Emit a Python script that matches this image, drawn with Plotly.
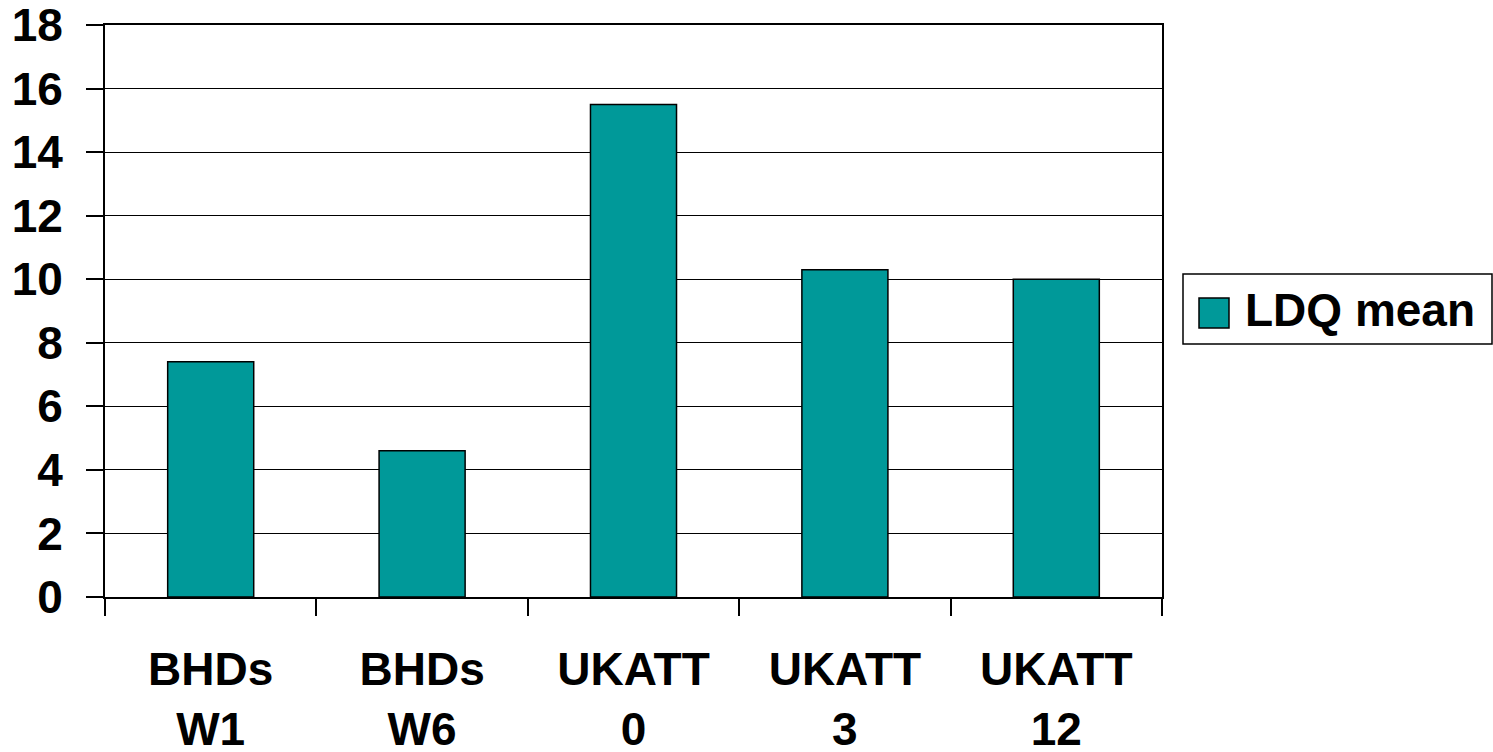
import plotly.graph_objects as go

categories = ["BHDs<br>W1", "BHDs<br>W6", "UKATT<br>0", "UKATT<br>3", "UKATT<br>12"]
ldq_mean = [7.4, 4.6, 15.5, 10.3, 10.0]
series_name = "LDQ mean"
y_ticks = [0, 2, 4, 6, 8, 10, 12, 14, 16, 18]

W, H = 1493, 752
L, R, T, B = 105, 331, 25, 155
pw, ph = W - L - R, H - T - B

def px_x(x):
    return (x - L) / pw

def px_y(y):
    return (H - B - y) / ph

FONT = "Arial, 'Liberation Sans', sans-serif"
TEAL = "#009999"

fig = go.Figure()
fig.add_trace(go.Bar(
    x=categories, y=ldq_mean, name=series_name,
    marker=dict(color=TEAL, line=dict(color="black", width=1.5)),
    showlegend=False,
))

fig.update_layout(
    width=W, height=H,
    margin=dict(l=L, r=R, t=T, b=B, autoexpand=False),
    paper_bgcolor="white", plot_bgcolor="white",
    bargap=0.593,
    font=dict(family=FONT, size=46, color="black", weight="bold"),
)
fig.update_xaxes(
    type="category", automargin=False,
    showline=True, linecolor="black", linewidth=2,
    mirror=True,
    ticks="outside", tickson="boundaries", ticklen=17, tickwidth=1.5, tickcolor="black",
    showgrid=False,
    tickfont=dict(family=FONT, size=46, color="black", weight="bold"),
    ticklabelstandoff=31,
    ticklabeloverflow="allow",
)
fig.update_yaxes(
    range=[0, 18], tickvals=y_ticks, automargin=False,
    showline=True, linecolor="black", linewidth=2, mirror=True,
    ticks="outside", ticklen=17, tickwidth=1.5, tickcolor="black",
    showgrid=True, gridcolor="black", gridwidth=1.3,
    zeroline=False,
    tickfont=dict(family=FONT, size=46, color="black", weight="bold"),
    ticklabelstandoff=14,
    ticklabeloverflow="allow",
)

# legend box
fig.add_shape(type="rect", xref="paper", yref="paper",
              x0=px_x(1183), x1=px_x(1492), y0=px_y(344), y1=px_y(274),
              line=dict(color="black", width=1.5), fillcolor="white", layer="above")
fig.add_shape(type="rect", xref="paper", yref="paper",
              x0=px_x(1199), x1=px_x(1229), y0=px_y(328), y1=px_y(298),
              line=dict(color="black", width=1.5), fillcolor=TEAL, layer="above")
fig.add_annotation(xref="paper", yref="paper", x=px_x(1243), y=px_y(310),
                   xanchor="left", yanchor="middle", showarrow=False,
                   text=series_name,
                   font=dict(family=FONT, size=46, color="black", weight="bold"))

fig.write_html("out.html")
